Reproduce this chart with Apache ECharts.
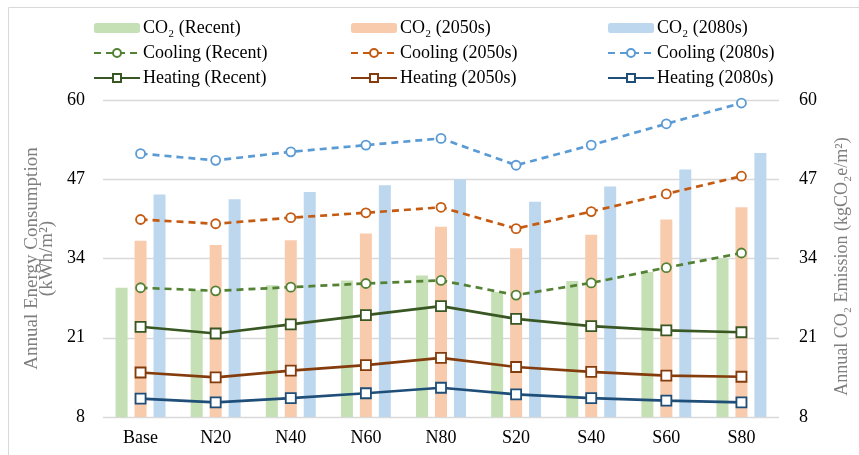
<!DOCTYPE html>
<html><head><meta charset="utf-8">
<script src="https://cdn.jsdelivr.net/npm/echarts@6/dist/echarts.min.js"></script>
<style>html,body{margin:0;padding:0;background:#fff}#c{width:859px;height:455px}</style>
</head><body><div id="c"></div>
<script>
const categories = ['Base','N20','N40','N60','N80','S20','S40','S60','S80'];
const co2Recent = [29.2,28.8,29.6,30.4,31.2,28.5,30.3,31.8,34.0];
const co2_2050s = [36.9,36.2,37.0,38.1,39.2,35.7,37.9,40.4,42.4];
const co2_2080s = [44.5,43.7,44.9,46.0,47.0,43.3,45.8,48.6,51.3];
const coolingRecent = [29.2,28.7,29.3,29.9,30.4,28.0,30.0,32.5,34.9];
const cooling2050s = [40.4,39.7,40.7,41.5,42.4,38.9,41.7,44.6,47.5];
const cooling2080s = [51.2,50.1,51.5,52.6,53.7,49.3,52.6,56.1,59.5];
const heatingRecent = [22.8,21.7,23.2,24.7,26.2,24.1,22.9,22.2,21.9];
const heating2050s = [15.3,14.5,15.6,16.5,17.7,16.2,15.4,14.8,14.6];
const heating2080s = [11.0,10.4,11.1,11.9,12.8,11.7,11.1,10.7,10.4];
const yTicks = {min: 8, max: 60, interval: 13};

const FONT = '"Liberation Serif", "Times New Roman", serif';
const chart = echarts.init(document.getElementById('c'), null, {renderer: 'canvas'});

function bar(name, data, color) {
  return {name, type: 'bar', yAxisIndex: 1, data, barWidth: 12, barGap: '58%',
    itemStyle: {color}, z: 1};
}
function line(name, data, color, dashed, symbol) {
  return {name, type: 'line', yAxisIndex: 0, data,
    symbol, symbolSize: symbol === 'circle' ? 9 : 10, showSymbol: true,
    lineStyle: {color, width: 2.7, type: dashed ? [7, 5] : 'solid'},
    itemStyle: {color: '#fff', borderColor: color, borderWidth: 1.8},
    z: 3};
}
const legendCommon = {orient: 'vertical', top: 19, padding: 0, itemWidth: 46, itemHeight: 10, itemGap: 7,
  textStyle: {fontFamily: FONT, fontSize: 18, color: '#000', padding: [0,0,0,-2]}};

chart.setOption({
  animation: false,
  backgroundColor: '#fff',
  graphic: [{type: 'rect', shape: {x: 8.5, y: 7.5, width: 860, height: 460},
    style: {fill: 'none', stroke: '#d9d9d9', lineWidth: 1}, silent: true}],
  legend: [
    Object.assign({left: 93, data: ['CO₂ (Recent)','Cooling (Recent)','Heating (Recent)']}, legendCommon),
    Object.assign({left: 350, data: ['CO₂ (2050s)','Cooling (2050s)','Heating (2050s)']}, legendCommon),
    Object.assign({left: 607, data: ['CO₂ (2080s)','Cooling (2080s)','Heating (2080s)']}, legendCommon)
  ],
  grid: {left: 103, right: 76, top: 100, bottom: 38},
  xAxis: {type: 'category', data: categories,
    axisLine: {show: false}, axisTick: {show: false},
    axisLabel: {fontFamily: FONT, fontSize: 18, color: '#000', margin: 12}},
  yAxis: [
    {type: 'value', min: yTicks.min, max: yTicks.max, interval: yTicks.interval,
      name: 'Annual Energy Consumption\n(kWh/m²)', nameLocation: 'middle', nameGap: 43,
      nameTextStyle: {fontFamily: FONT, fontSize: 19, color: '#7f7f7f', lineHeight: 15},
      axisLabel: {fontFamily: FONT, fontSize: 18, color: '#000', margin: 18},
      splitLine: {lineStyle: {color: '#d9d9d9', width: 1.3}},
      axisLine: {show: false}, axisTick: {show: false}},
    {type: 'value', min: yTicks.min, max: yTicks.max, interval: yTicks.interval,
      name: 'Annual CO₂ Emission (kgCO₂e/m²)', nameLocation: 'middle', nameGap: 54, nameRotate: 90,
      nameTextStyle: {fontFamily: FONT, fontSize: 18, color: '#7f7f7f', padding: [0, 16, 0, 0]},
      axisLabel: {fontFamily: FONT, fontSize: 18, color: '#000', margin: 20},
      splitLine: {show: false}, axisLine: {show: false}, axisTick: {show: false}}
  ],
  series: [
    bar('CO₂ (Recent)', co2Recent, '#c5e0b4'),
    bar('CO₂ (2050s)', co2_2050s, '#f8cbad'),
    bar('CO₂ (2080s)', co2_2080s, '#bdd7ee'),
    line('Cooling (Recent)', coolingRecent, '#548235', true, 'circle'),
    line('Cooling (2050s)', cooling2050s, '#c55a11', true, 'circle'),
    line('Cooling (2080s)', cooling2080s, '#5b9bd5', true, 'circle'),
    line('Heating (Recent)', heatingRecent, '#385723', false, 'rect'),
    line('Heating (2050s)', heating2050s, '#843c0c', false, 'rect'),
    line('Heating (2080s)', heating2080s, '#1f4e79', false, 'rect')
  ]
});
</script></body></html>
